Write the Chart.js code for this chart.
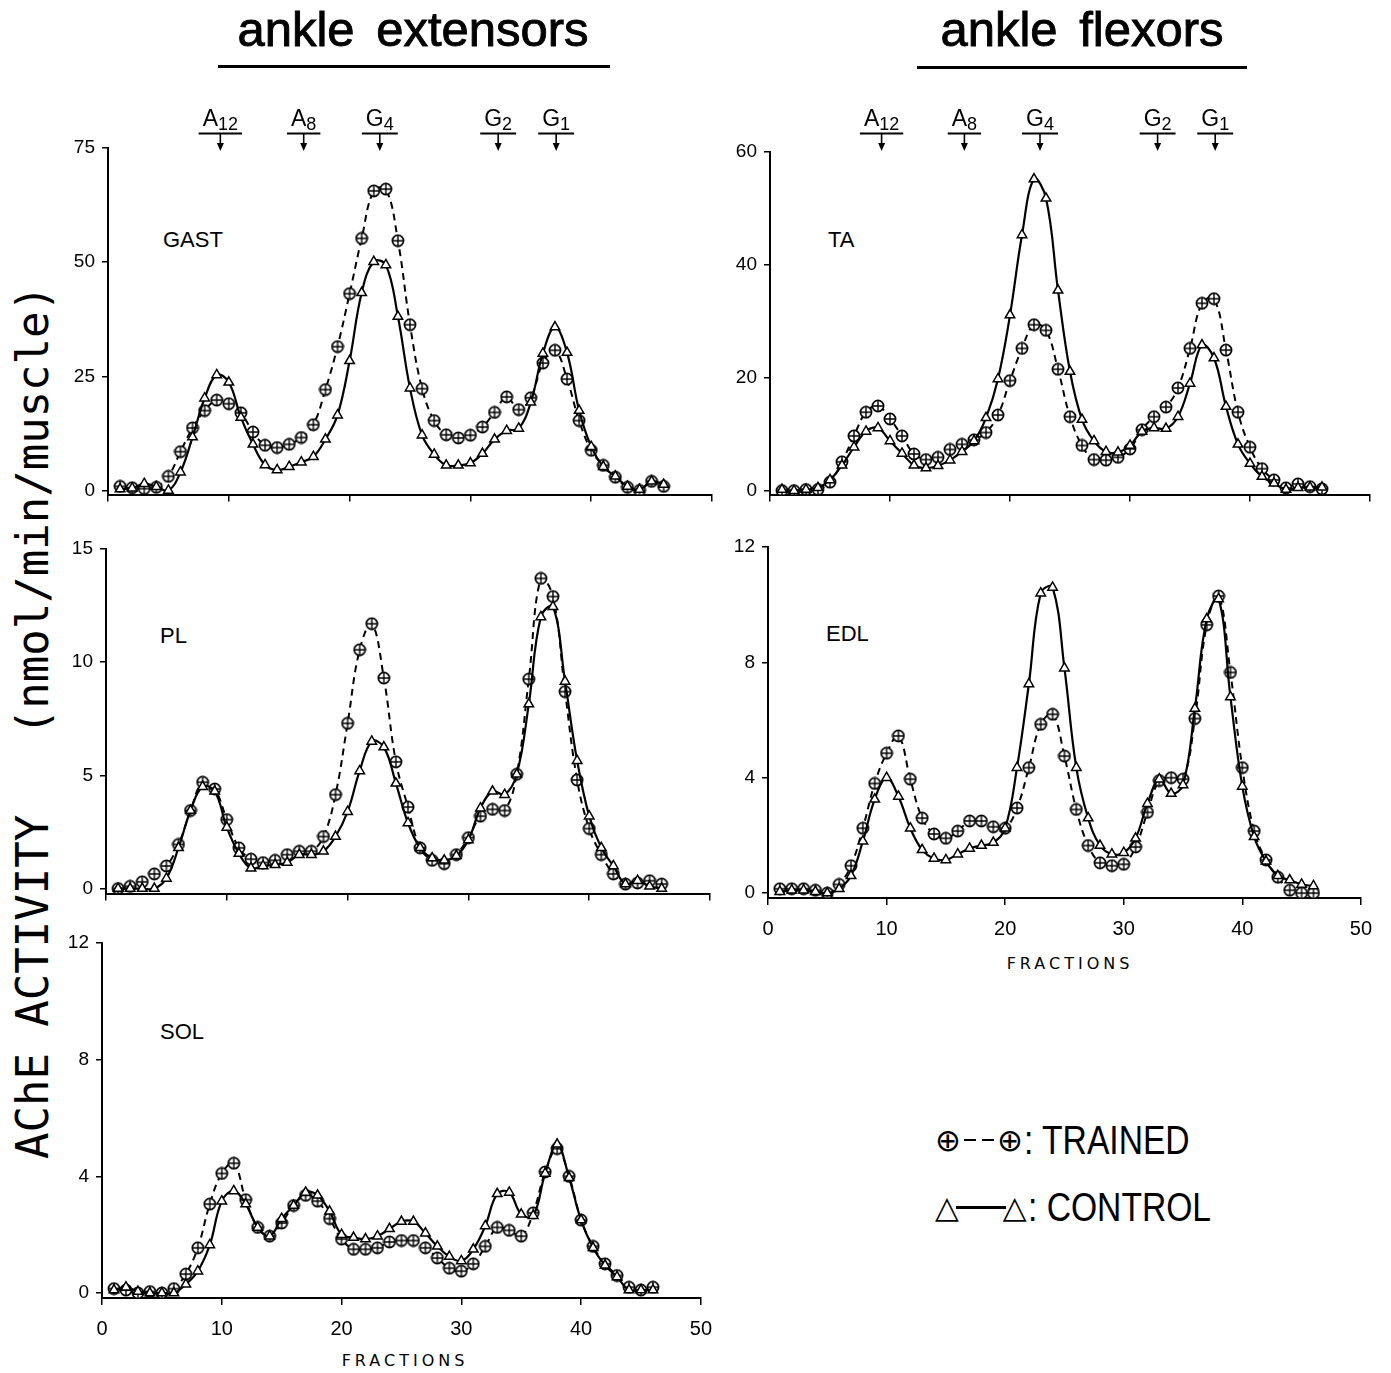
<!DOCTYPE html>
<html><head><meta charset="utf-8">
<script src="https://cdn.jsdelivr.net/npm/chart.js@4.4.1/dist/chart.umd.min.js"></script>
<style>
html,body{margin:0;padding:0;background:#fff;}
body{width:1391px;height:1373px;position:relative;overflow:hidden;font-family:'Liberation Sans',Arial,sans-serif;color:#000;}
canvas{position:absolute;}
.t{position:absolute;white-space:pre;line-height:1;}
.title{font-size:49px;word-spacing:8px;transform:translateX(-50%);-webkit-text-stroke:0.9px #000;}
.uline{position:absolute;height:3px;background:#000;}
.plab{font-size:22px;}
.frac{font-family:'DejaVu Sans',sans-serif;font-size:16px;letter-spacing:4px;transform:translateX(-50%);}
.ytitle{font-family:'DejaVu Sans Mono',monospace;font-size:44px;transform:translate(-50%,-50%) rotate(-90deg);}
.leg{position:absolute;height:42px;display:flex;align-items:center;}
.sym{font-family:'DejaVu Sans',sans-serif;font-size:31px;line-height:1;display:inline-block;}
.dash{display:inline-block;width:12px;height:2.5px;background:#000;margin:0 3px;}
.solid{display:inline-block;width:50px;height:3px;background:#000;margin:0 -3px;}
.legtxt{font-size:41px;line-height:1;display:inline-block;transform:scaleX(0.82);transform-origin:left center;margin-left:1px;}
</style></head><body>

<div class="t title" style="left:413px;top:5px;">ankle extensors</div>
<div class="uline" style="left:218px;top:65px;width:392px;"></div>
<div class="t title" style="left:1082px;top:5px;">ankle flexors</div>
<div class="uline" style="left:917px;top:66px;width:330px;"></div>

<div class="t ytitle" style="left:33px;top:722px;">AChE ACTIVITY   (nmol/min/muscle)</div>

<div class="t plab" style="left:163px;top:229px;">GAST</div>
<div class="t plab" style="left:828px;top:229px;">TA</div>
<div class="t plab" style="left:160px;top:625px;">PL</div>
<div class="t plab" style="left:826px;top:623px;">EDL</div>
<div class="t plab" style="left:160px;top:1021px;">SOL</div>

<div class="t frac" style="left:405px;top:1353px;">FRACTIONS</div>
<div class="t frac" style="left:1070px;top:956px;">FRACTIONS</div>

<div class="leg" style="left:935px;top:1119px;"><span class="sym">⊕</span><span class="dash"></span><span class="dash"></span><span class="sym">⊕</span><span class="legtxt">: TRAINED</span></div>
<div class="leg" style="left:935px;top:1186px;"><span class="sym">△</span><span class="solid"></span><span class="sym">△</span><span class="legtxt">: CONTROL</span></div>

<script>
// ---------------- DATA ----------------
const fractions = [1,2,3,4,5,6,7,8,9,10,11,12,13,14,15,16,17,18,19,20,21,22,23,24,25,26,27,28,29,30,31,32,33,34,35,36,37,38,39,40,41,42,43,44,45,46];
const xTicks = [0,10,20,30,40,50];

const gastTrained = [0.9,0.6,0.4,0.7,3.1,8.5,13.7,17.5,19.8,19.0,17.0,12.8,9.9,9.4,10.1,11.6,14.4,22.1,31.5,43.1,55.2,65.6,66.0,54.7,36.3,22.3,15.3,12.2,11.5,12.1,13.9,17.1,20.5,17.7,20.3,27.9,30.7,24.4,15.3,8.8,5.5,2.9,0.7,0,2.0,0.9];
const gastControl = [0.3,0.5,1.5,0.8,0,4.0,11.7,20.2,25.3,23.7,16.0,10.1,5.6,4.5,5.2,6.2,7.4,11.2,16.5,28.4,43.3,50.1,49.4,38.1,22.4,12.1,7.9,5.5,5.5,6.0,8.1,11.2,13.1,13.6,19.3,30.0,35.8,30.2,17.5,9.6,5.2,3.1,0.9,0.2,2.0,1.3];
const gastTicks = [0,25,50,75];

const taTrained = [0,0,0.2,0.2,1.5,5.1,9.7,13.9,15.0,12.7,9.7,6.5,5.5,5.9,7.3,8.2,9.0,10.3,13.4,19.5,25.2,29.4,28.4,21.5,13.1,8.0,5.5,5.4,5.9,7.4,10.8,13.1,14.8,18.2,25.2,33.2,34.0,24.9,13.9,7.7,3.9,1.9,0.5,1.2,0.7,0.3];
const taControl = [0.2,0,0.2,0.5,1.9,4.5,7.7,10.5,11.1,8.8,6.6,4.5,4.0,4.4,5.4,6.9,8.8,12.9,19.8,31.1,45.3,55.2,51.8,35.5,21.1,12.6,8.8,6.9,6.8,8.0,10.5,11.1,11.0,13.1,19.0,25.8,23.5,14.9,8.2,4.8,2.5,1.3,0.2,0.5,0.6,0.6];
const taTicks = [0,20,40,60];

const plTrained = [0,0.1,0.3,0.65,1.0,1.95,3.45,4.7,4.4,3.05,1.8,1.3,1.15,1.25,1.5,1.65,1.65,2.3,4.15,7.3,10.55,11.7,9.3,5.6,3.6,1.8,1.25,1.1,1.5,2.25,3.2,3.5,3.45,5.05,9.25,13.7,12.9,8.7,4.8,2.65,1.5,0.65,0.2,0.25,0.35,0.2];
const plControl = [0,0,0,0,0.45,1.8,3.45,4.5,4.3,2.7,1.55,0.9,1.0,1.05,1.15,1.5,1.5,1.65,2.3,3.4,5.2,6.5,6.25,4.65,2.9,1.8,1.35,1.25,1.45,2.15,3.55,4.3,4.15,5.05,8.15,12.0,12.45,9.15,5.65,3.2,1.8,1.0,0.2,0.35,0.1,0];
const plTicks = [0,5,10,15];

const edlTrained = [0.15,0.15,0.15,0.1,0,0.3,0.95,2.25,3.8,4.85,5.45,3.95,2.6,2.05,1.9,2.15,2.5,2.5,2.3,2.25,2.95,4.35,5.85,6.2,4.75,2.9,1.65,1.05,0.95,1.0,1.6,2.8,3.9,4.0,3.95,6.05,9.3,10.3,7.65,4.35,2.15,1.15,0.55,0.1,0,0];
const edlControl = [0.05,0.1,0.1,0.05,0,0.15,0.6,1.8,3.25,4.0,3.35,2.25,1.5,1.2,1.15,1.35,1.55,1.65,1.75,2.25,4.35,7.25,10.4,10.6,7.8,4.35,2.6,1.65,1.35,1.4,1.9,3.1,3.95,3.45,3.75,6.4,9.5,10.2,6.8,3.7,1.95,1.1,0.6,0.45,0.3,0.25];
const edlTicks = [0,4,8,12];

const solTrained = [0.15,0.1,0,0.05,0,0.15,0.65,1.55,3.05,4.1,4.45,3.2,2.25,1.95,2.4,3.0,3.35,3.15,2.55,1.85,1.5,1.5,1.55,1.75,1.8,1.8,1.55,1.2,0.85,0.75,1.0,1.6,2.25,2.15,1.95,2.75,4.15,4.95,4.0,2.5,1.6,1.0,0.6,0.2,0.1,0.2];
const solControl = [0.1,0.2,0.05,0,0,0,0.3,0.75,1.65,3.15,3.5,3.05,2.25,1.95,2.55,3.0,3.45,3.35,2.8,2.0,1.9,1.85,1.95,2.2,2.45,2.45,2.05,1.6,1.25,1.1,1.5,2.3,3.4,3.45,2.7,2.65,4.1,5.1,3.95,2.5,1.55,0.95,0.55,0.1,0.1,0.1];
const solTicks = [0,4,8,12];

// molecular form markers (fraction positions)
const formNames = ['A','A','G','G','G'];
const formSubs = ['12','8','4','2','1'];
const formFractions = [9.3,16.2,22.5,32.3,37.1];

// ---------------- STYLE / LAYOUT ----------------
const FONT = "'Liberation Sans', Arial, sans-serif";

function circlePlus() {
  const c = document.createElement('canvas');
  c.width = 14; c.height = 14;
  const g = c.getContext('2d');
  g.lineWidth = 1.7; g.strokeStyle = '#000'; g.fillStyle = '#fff';
  g.beginPath(); g.arc(7,7,5.6,0,Math.PI*2); g.fill(); g.stroke();
  g.lineWidth = 1.4;
  g.beginPath(); g.moveTo(7,1.6); g.lineTo(7,12.4); g.moveTo(1.6,7); g.lineTo(12.4,7); g.stroke();
  return c;
}
const cpImg = circlePlus();

const formsPlugin = {
  id: 'forms',
  afterDraw(chart) {
    const xs = chart.scales.x;
    const ctx = chart.ctx;
    ctx.save();
    ctx.fillStyle = '#000'; ctx.strokeStyle = '#000';
    for (let i = 0; i < formNames.length; i++) {
      const x = xs.getPixelForValue(formFractions[i]);
      ctx.font = '23px ' + FONT;
      const w1 = ctx.measureText(formNames[i]).width;
      ctx.font = '18px ' + FONT;
      const w2 = ctx.measureText(formSubs[i]).width;
      const w = w1 + w2;
      const x0 = x - w/2;
      ctx.textBaseline = 'alphabetic'; ctx.textAlign = 'left';
      ctx.font = '23px ' + FONT;
      ctx.fillText(formNames[i], x0, 31);
      ctx.font = '18px ' + FONT;
      ctx.fillText(formSubs[i], x0 + w1, 35);
      ctx.lineWidth = 2;
      ctx.beginPath(); ctx.moveTo(x0 - 4, 38.5); ctx.lineTo(x0 + w + 4, 38.5); ctx.stroke();
      ctx.lineWidth = 1.6;
      ctx.beginPath(); ctx.moveTo(x, 38.5); ctx.lineTo(x, 52); ctx.stroke();
      ctx.beginPath(); ctx.moveTo(x - 3.5, 48); ctx.lineTo(x + 3.5, 48); ctx.lineTo(x, 56); ctx.closePath(); ctx.fill();
    }
    ctx.restore();
  }
};

const panels = [
  {trained: gastTrained, control: gastControl, yTicks: gastTicks, ymin: -0.9, ymax: 75, left: 38, top: 95, w: 694, padTop: 53, plotH: 353, xh: 12, showX: false, forms: true},
  {trained: taTrained, control: taControl, yTicks: taTicks, ymin: -0.7, ymax: 60, left: 700, top: 95, w: 690, padTop: 57, plotH: 349, xh: 12, showX: false, forms: true},
  {trained: plTrained, control: plControl, yTicks: plTicks, ymin: -0.22, ymax: 15, left: 36, top: 529, w: 694, padTop: 20, plotH: 351, xh: 12, showX: false, forms: false},
  {trained: edlTrained, control: edlControl, yTicks: edlTicks, ymin: -0.17, ymax: 12, left: 698, top: 527, w: 686, padTop: 20, plotH: 351, xh: 50, showX: true, forms: false},
  {trained: solTrained, control: solControl, yTicks: solTicks, ymin: -0.17, ymax: 12, left: 32, top: 923, w: 692, padTop: 20, plotH: 355, xh: 50, showX: true, forms: false}
];

function pts(arr) { return arr.map((v, i) => ({x: fractions[i], y: v})); }

panels.forEach(p => {
  const cv = document.createElement('canvas');
  const h = p.padTop + p.plotH + p.xh;
  cv.width = p.w; cv.height = h;
  cv.style.left = p.left + 'px'; cv.style.top = p.top + 'px';
  cv.style.width = p.w + 'px'; cv.style.height = h + 'px';
  document.body.appendChild(cv);
  new Chart(cv, {
    type: 'line',
    data: {
      datasets: [
        {label: 'CONTROL', data: pts(p.control), borderColor: '#000', borderWidth: 2.2, tension: 0.4, fill: false,
         pointStyle: 'triangle', pointRadius: 5.5, pointBackgroundColor: '#fff', pointBorderColor: '#000', pointBorderWidth: 1.5},
        {label: 'TRAINED', data: pts(p.trained), borderColor: '#000', borderWidth: 2, borderDash: [7, 5], tension: 0.4, fill: false,
         pointStyle: cpImg, pointRadius: 6}
      ]
    },
    options: {
      responsive: false, animation: false, devicePixelRatio: 1,
      layout: {padding: {top: p.padTop, right: 20, left: 0, bottom: 0}},
      plugins: {legend: {display: false}, tooltip: {enabled: false}},
      scales: {
        x: {
          type: 'linear', min: 0, max: 50,
          afterBuildTicks: s => { s.ticks = xTicks.map(v => ({value: v})); },
          ticks: {display: p.showX, color: '#000', font: {size: 20, family: FONT}, padding: 12, maxRotation: 0},
          grid: {drawOnChartArea: false, drawTicks: true, tickLength: 7, color: '#000', lineWidth: 1.5},
          border: {display: true, color: '#000', width: 2},
          afterFit: s => { s.height = p.xh; }
        },
        y: {
          min: p.ymin, max: p.ymax,
          afterBuildTicks: s => { s.ticks = p.yTicks.map(v => ({value: v})); },
          ticks: {color: '#000', font: {size: 19, family: FONT}, padding: 7},
          grid: {drawOnChartArea: false, drawTicks: true, tickLength: 6, color: '#000', lineWidth: 1.5},
          border: {display: true, color: '#000', width: 2},
          afterFit: s => { s.width = 70; }
        }
      }
    },
    plugins: p.forms ? [formsPlugin] : []
  });
});
</script>
</body></html>
